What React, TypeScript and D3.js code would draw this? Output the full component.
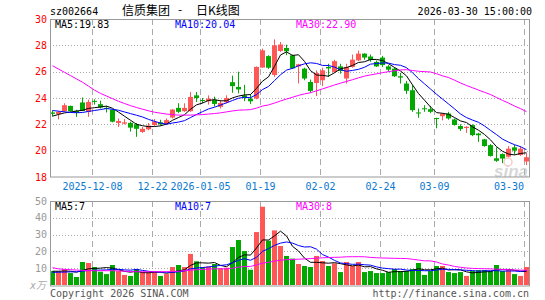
import React from "react";
import * as d3 from "d3";

// ---- data ----
const opens = [
  22.9, 22.78, 23.0, 23.4, 23.02, 23.66, 22.95, 23.78, 23.53, 23.25,
  23.1, 22.1, 22.05, 22.11, 22.0, 21.42, 21.62, 21.95, 22.15, 22.02,
  22.52, 23.25, 23.0, 23.0, 24.2, 23.85, 23.75, 23.85, 23.33, 23.68,
  25.2, 24.84, 24.2, 23.95, 23.96, 26.31, 27.18, 25.75, 27.57, 27.8,
  27.24, 26.4, 26.23, 25.22, 25.14, 25.35, 26.36, 25.98, 26.4, 25.48,
  26.36, 26.86, 27.37, 27.15, 26.74, 27.07, 26.4, 26.23, 25.65, 25.1,
  24.59, 22.9, 23.22, 23.15, 22.48, 22.62, 22.82, 22.37, 21.87, 21.72,
  21.94, 21.3, 20.86, 20.42, 19.42, 19.74, 19.54, 20.25, 19.67, 19.18,
];
const highs = [
  23.05, 23.0, 23.6, 23.42, 23.1, 24.04, 23.88, 23.9, 23.8, 23.4,
  23.15, 22.45, 22.4, 22.2, 22.1, 21.8, 22.1, 22.4, 22.35, 22.45,
  23.15, 23.6, 23.6, 24.45, 24.45, 24.0, 24.2, 24.1, 23.85, 24.2,
  25.7, 26.0, 25.0, 24.3, 26.4, 27.75, 27.25, 28.45, 28.25, 28.05,
  27.3, 26.6, 26.3, 25.4, 26.1, 26.3, 26.6, 26.9, 26.6, 26.6,
  27.3, 27.6, 27.4, 27.3, 26.85, 27.2, 26.5, 26.3, 25.9, 25.3,
  24.97, 23.2, 23.45, 23.4, 22.5, 22.85, 22.95, 22.45, 22.0, 21.85,
  22.0, 21.35, 20.9, 20.5, 20.25, 19.8, 20.35, 20.45, 20.35, 19.8,
];
const lows = [
  22.6, 22.38, 22.95, 22.95, 22.57, 23.0, 22.57, 23.5, 23.2, 22.9,
  22.15, 21.8, 22.0, 21.45, 21.05, 21.35, 21.55, 21.85, 21.9, 21.95,
  22.45, 22.85, 22.95, 22.95, 23.7, 23.6, 23.5, 23.35, 23.2, 23.6,
  24.4, 24.35, 23.76, 23.55, 23.9, 26.3, 26.2, 25.6, 27.5, 27.25,
  26.2, 25.1, 25.35, 24.4, 24.14, 24.9, 25.6, 25.9, 25.85, 25.1,
  26.3, 26.8, 26.9, 26.75, 26.35, 26.35, 26.0, 25.6, 25.1, 24.3,
  22.95, 22.5, 22.95, 22.85, 21.7, 22.3, 22.35, 21.9, 21.5, 21.35,
  21.1, 20.67, 20.3, 19.55, 19.15, 19.05, 19.5, 19.7, 19.6, 18.9,
];
const closes = [
  22.8, 22.95, 23.45, 23.0, 22.88, 23.02, 23.7, 23.72, 23.28, 23.2,
  22.2, 22.25, 22.15, 21.75, 21.66, 21.66, 21.9, 22.2, 22.0, 22.32,
  23.12, 22.95, 23.25, 24.08, 24.0, 23.8, 23.95, 23.55, 23.63, 24.0,
  24.9, 24.65, 24.0, 23.75, 26.36, 27.62, 26.3, 28.0, 28.06, 27.55,
  26.25, 26.56, 25.48, 24.54, 25.9, 26.1, 26.25, 26.8, 26.05, 26.36,
  26.91, 27.37, 27.07, 26.9, 26.4, 26.5, 26.15, 25.65, 25.55, 24.55,
  23.08, 22.85, 23.15, 22.95, 22.43, 22.82, 22.45, 21.95, 21.65, 21.81,
  21.18, 21.17, 20.35, 19.6, 19.23, 19.4, 20.15, 20.0, 20.15, 19.5,
];
const volumes = [
  8.3, 8.3, 9.5, 7.1, 4.8, 13.7, 13.1, 10.7, 7.9, 6.5,
  11.9, 8.3, 6.0, 5.4, 9.5, 7.7, 7.7, 7.7, 5.4, 6.5,
  10.7, 11.9, 10.7, 18.5, 14.1, 10.7, 11.1, 12.5, 9.9, 10.3,
  22.6, 26.8, 20.2, 9.1, 31.5, 46.6, 26.4, 32.5, 23.2, 17.3,
  15.7, 12.5, 11.3, 10.7, 17.3, 14.3, 11.3, 12.9, 7.7, 13.7,
  11.3, 13.7, 7.7, 8.3, 7.1, 7.1, 7.7, 9.5, 8.3, 8.3,
  9.5, 13.1, 6.0, 8.3, 11.3, 11.3, 7.7, 7.1, 7.7, 5.4,
  8.3, 8.9, 8.9, 8.3, 11.9, 8.3, 8.9, 6.5, 5.4, 10.7,
];

// moving-average values before enough visible days exist
const ma5Head = [22.62, 22.75, 22.87, 22.93];
const ma10Head = [23.05, 23.0, 22.95, 22.9, 22.88, 22.9, 22.98, 23.05, 23.12];
const ma30Head = [
  26.45, 26.2, 25.95, 25.7, 25.45, 25.2, 24.9, 24.6, 24.35, 24.15,
  23.95, 23.75, 23.58, 23.42, 23.28, 23.15, 23.03, 22.92, 22.85, 22.78,
  22.74, 22.7, 22.7, 22.7, 22.72, 22.74, 22.78, 22.82, 22.87,
];
const volMa5Head = [8.2, 8.2, 8.3, 8.2];
const volMa10Head = [7.5, 7.6, 7.7, 7.8, 7.9, 8.3, 8.6, 8.8, 8.9];
const volMa30Head = [
  10.3, 9.6, 9.3, 9.1, 8.9, 8.7, 8.6, 8.5, 8.5, 8.5,
  8.5, 8.4, 8.2, 8.0, 7.9, 7.9, 7.9, 7.9, 7.9, 7.9,
  8.0, 8.2, 8.5, 8.8, 9.1, 9.3, 9.5, 9.6, 9.7,
];

const dateTickIndex = [7, 17, 25, 35, 45, 55, 64, 79];
const dateTickLabels = ["2025-12-08", "12-22", "2026-01-05", "01-19", "02-02", "02-24", "03-09", "03-30"];
const priceTicks = [18, 20, 22, 24, 26, 28, 30];
const volumeTicks = [10, 20, 30, 40, 50];
const priceMaLabels = ["MA5:19.83", "MA10:20.04", "MA30:22.90"];
const volumeMaLabels = ["MA5:7", "MA10:7", "MA30:8"];

// ---- styling ----
const RED = "#ff5656";
const GREEN = "#00a800";
const MA_COLORS = ["#000000", "#0000ff", "#ff00ff"];
const MONO = "'DejaVu Sans Mono', 'Liberation Mono', monospace";
const CJK = "'Noto Sans CJK SC', sans-serif";

function movingAvg(values: number[], n: number, head: number[]): number[] {
  return values.map((_, i) =>
    i < n - 1 ? head[i] : (d3.mean(values.slice(i - n + 1, i + 1)) as number)
  );
}

export default function App() {
  const W = 545, H = 300;
  const L = 50, R = 530;
  const mainTop = 19, mainBottom = 177;
  const volTop = 201, volBottom = 285;
  const n = closes.length;

  const x = d3.scaleLinear().domain([0, n]).range([L, R]);
  const yP = d3.scaleLinear().domain([18, 30]).range([mainBottom, mainTop]);
  const yV = d3.scaleLinear().domain([0, 50]).range([volBottom, volTop]);
  const cx = (i: number) => Math.floor(x(i)) + 2.5;

  const priceMAs = [
    movingAvg(closes, 5, ma5Head),
    movingAvg(closes, 10, ma10Head),
    movingAvg(closes, 30, ma30Head),
  ];
  const volMAs = [
    movingAvg(volumes, 5, volMa5Head),
    movingAvg(volumes, 10, volMa10Head),
    movingAvg(volumes, 30, volMa30Head),
  ];

  const lineP = d3.line<number>().x((_, i) => cx(i)).y((v) => yP(v));
  const lineV = d3.line<number>().x((_, i) => cx(i)).y((v) => yV(v));

  const gridX = dateTickIndex.map((i) => Math.floor(x(i)) + 0.5);
  const maLabelX = [55, 175, 296];

  return (
    <svg
      width={W}
      height={H}
      style={{ position: "absolute", left: 0, top: 0, background: "#fff" }}
      fontFamily={MONO}
    >
      <rect x={0} y={0} width={W} height={H} fill="#fff" />

      {/* title */}
      <text x={50} y={14.5} fontSize={10} fill="#000">sz002664</text>
      <text x={122} y={14.5} fontSize={12} fontFamily={CJK} fill="#000">信质集团</text>
      <text x={180} y={14} fontSize={12} fontFamily={CJK} fill="#000" textAnchor="middle">-</text>
      <text x={196} y={14.5} fontSize={12} fontFamily={CJK} fill="#000">日K线图</text>
      <text x={532} y={15} fontSize={10} fill="#000" textAnchor="end">2026-03-30 15:00:00</text>

      {/* main grid */}
      {priceTicks.filter((t) => t > 18 && t < 30).map((t) => (
        <line key={"hp" + t} x1={L} x2={R - 1} y1={Math.round(yP(t)) + 0.5} y2={Math.round(yP(t)) + 0.5}
          stroke="#aaa" strokeDasharray="1,2" />
      ))}
      {gridX.map((gx, k) => (
        <line key={"vp" + k} x1={gx} x2={gx} y1={mainTop} y2={mainBottom} stroke="#aaa" strokeDasharray="6,4" />
      ))}

      {/* volume grid */}
      {volumeTicks.filter((t) => t < 50).map((t) => (
        <line key={"hv" + t} x1={L} x2={R - 1} y1={Math.round(yV(t)) + 0.5} y2={Math.round(yV(t)) + 0.5}
          stroke="#aaa" strokeDasharray="1,2" />
      ))}
      {gridX.map((gx, k) => (
        <line key={"vv" + k} x1={gx} x2={gx} y1={volTop} y2={volBottom} stroke="#aaa" strokeDasharray="6,4" />
      ))}

      {/* watermark */}
      <g opacity={0.55}>
        <circle cx={508} cy={162} r={4} fill="none" stroke="#f0a0a0" strokeWidth={1.5} />
        <text x={494} y={177} fontSize={17} fontStyle="italic" fontWeight="bold"
          fontFamily="'Liberation Sans', Arial, sans-serif" fill="#b8b8b8">sina</text>
      </g>

      {/* candles */}
      {closes.map((c, i) => {
        const o = opens[i];
        const up = c >= o;
        const col = up ? RED : GREEN;
        const left = Math.floor(x(i));
        const yTop = yP(Math.max(o, c));
        const yBot = yP(Math.min(o, c));
        const h = Math.max(1, yBot - yTop);
        return (
          <g key={"c" + i}>
            <line x1={cx(i)} x2={cx(i)} y1={yP(highs[i])} y2={yP(lows[i])} stroke={col} strokeWidth={1} />
            <rect x={left} y={yTop} width={5} height={h} fill={col} />
          </g>
        );
      })}

      {/* price MAs */}
      {priceMAs.map((m, k) => (
        <path key={"pm" + k} d={lineP(m) || ""} fill="none" stroke={MA_COLORS[k]} strokeWidth={1} />
      ))}

      {/* volume bars */}
      {volumes.map((v, i) => {
        const up = closes[i] >= opens[i];
        return (
          <rect key={"v" + i} x={Math.floor(x(i))} y={yV(v)} width={5} height={yV(0) - yV(v)}
            fill={up ? RED : GREEN} />
        );
      })}

      {/* volume MAs */}
      {volMAs.map((m, k) => (
        <path key={"vm" + k} d={lineV(m) || ""} fill="none" stroke={MA_COLORS[k]} strokeWidth={1} />
      ))}

      {/* borders */}
      <rect x={L + 0.5} y={mainTop + 0.5} width={R - L - 1} height={mainBottom - mainTop - 0.5}
        fill="none" stroke="#999" />
      <rect x={L + 0.5} y={volTop + 0.5} width={R - L - 1} height={volBottom - volTop + 0.5}
        fill="none" stroke="#999" />

      {/* MA labels */}
      {priceMaLabels.map((t, k) => (
        <text key={"pl" + k} x={maLabelX[k]} y={28} fontSize={10} fill={MA_COLORS[k]}>{t}</text>
      ))}
      {volumeMaLabels.map((t, k) => (
        <text key={"vl" + k} x={maLabelX[k]} y={210} fontSize={10} fill={MA_COLORS[k]}>{t}</text>
      ))}

      {/* price axis labels */}
      {priceTicks.map((t) => (
        <text key={"pt" + t} x={47} y={yP(t) + 3.5} fontSize={10} fill="#ff0000" textAnchor="end">{t}</text>
      ))}
      {/* volume axis labels */}
      {volumeTicks.map((t) => (
        <text key={"vt" + t} x={47} y={yV(t) + 3.5} fontSize={10} fill="#999" textAnchor="end">{t}</text>
      ))}
      <text x={46} y={289} fontSize={10} fill="#aaa" fontStyle="italic" textAnchor="end"
        fontFamily={"'DejaVu Sans Mono', " + CJK}>x万</text>

      {/* date labels */}
      {dateTickIndex.map((idx, k) => {
        const last = k === dateTickIndex.length - 1;
        return (
          <text key={"d" + k} x={last ? 524 : gridX[k]} y={190} fontSize={10} fill="#0a78d0"
            textAnchor={last ? "end" : "middle"}>{dateTickLabels[k]}</text>
        );
      })}

      {/* footer */}
      <text x={50} y={297} fontSize={10} fill="#555">Copyright 2026 SINA.COM</text>
      <text x={529} y={297} fontSize={10} fill="#555" textAnchor="end">http://finance.sina.com.cn</text>
    </svg>
  );
}
